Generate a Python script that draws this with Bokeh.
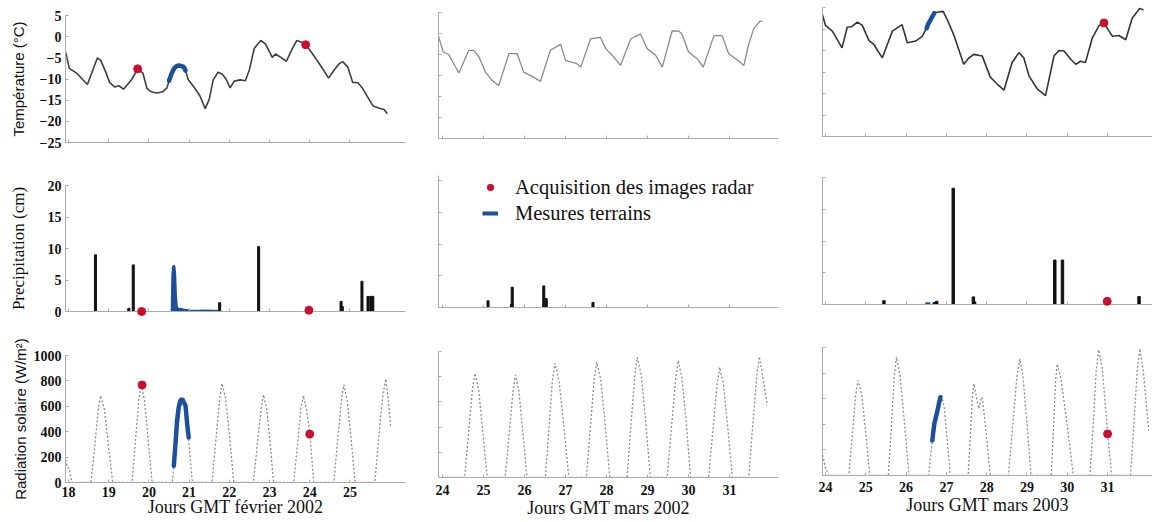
from bokeh.plotting import figure
from bokeh.layouts import row, column
from bokeh.models import Range1d, FixedTicker, Legend, LegendItem, Title
from bokeh.embed import file_html
from bokeh.resources import INLINE

# ---------------- data ----------------
feb2002_ticks = [18, 19, 20, 21, 22, 23, 24, 25]
mar_ticks = [24, 25, 26, 27, 28, 29, 30, 31]
temp_ticks = [-25, -20, -15, -10, -5, 0, 5]
precip_ticks = [0, 5, 10, 15, 20]
rad_ticks = [0, 200, 400, 600, 800, 1000]

x_titles = ["Jours GMT février 2002", "Jours GMT mars 2002", "Jours GMT mars 2003"]
y_titles = ["Température (°C)", "Precipitation (cm)", "Radiation solaire (W/m²)"]
legend_labels = ["Acquisition des images radar", "Mesures terrains"]

# Temperature (deg C)
temp_feb2002_days = [17.93, 18.02, 18.2, 18.38, 18.47, 18.6, 18.72, 18.8, 18.92, 19.02,
                     19.15, 19.25, 19.37, 19.47, 19.58, 19.72, 19.85, 19.95, 20.05, 20.2,
                     20.35, 20.45, 20.5, 20.56, 20.62, 20.68, 20.74, 20.8, 20.87, 20.91,
                     20.98, 21.13, 21.27, 21.4, 21.5, 21.6, 21.72, 21.82, 21.92, 22.02,
                     22.12, 22.27, 22.4, 22.5, 22.62, 22.78, 22.9, 23.07, 23.15, 23.28,
                     23.42, 23.55, 23.68, 23.8, 23.9, 24.05, 24.22, 24.35, 24.47, 24.6,
                     24.72, 24.82, 24.95, 25.07, 25.2, 25.3, 25.45, 25.57, 25.73, 25.85, 25.93]
temp_feb2002_vals = [-3.7, -7.5, -8.6, -10.4, -11.3, -8.0, -5.0, -5.6, -8.2, -10.8,
                     -11.9, -11.6, -12.4, -11.3, -10.0, -7.6, -8.6, -12.2, -13.0, -13.3,
                     -13.0, -12.1, -10.4, -8.8, -7.6, -7.0, -6.8, -6.9, -7.2, -8.0,
                     -10.2, -12.0, -14.0, -17.0, -14.8, -10.2, -8.4, -8.8, -10.0, -12.1,
                     -10.5, -10.2, -10.4, -7.8, -2.8, -0.9, -1.7, -4.9, -4.1, -4.9,
                     -5.8, -3.2, -0.9, -1.3, -1.9, -3.8, -6.1, -8.0, -9.8, -8.0,
                     -6.5, -5.9, -7.2, -10.8, -10.9, -12.0, -14.4, -16.3, -16.9, -17.2, -18.2]
temp_feb2002_field_days = [20.5, 20.56, 20.62, 20.68, 20.74, 20.8, 20.87, 20.91]
temp_feb2002_field_vals = [-10.4, -8.8, -7.6, -7.0, -6.8, -6.9, -7.2, -8.0]
temp_feb2002_radar_days = [19.72, 23.9]
temp_feb2002_radar_vals = [-7.6, -1.9]

temp_mar2002_days = [23.87, 24.02, 24.15, 24.4, 24.64, 24.76, 24.89, 25.05, 25.21, 25.37,
                     25.62, 25.82, 25.98, 26.19, 26.39, 26.63, 26.88, 27.0, 27.28, 27.37,
                     27.61, 27.85, 27.98, 28.18, 28.34, 28.59, 28.83, 28.99, 29.2, 29.36,
                     29.6, 29.76, 29.84, 30.0, 30.21, 30.36, 30.62, 30.82, 30.98, 31.19,
                     31.35, 31.47, 31.59, 31.74, 31.8]
temp_mar2002_vals = [0.3, -4.4, -5.0, -9.4, -4.0, -4.0, -5.6, -9.2, -11.2, -12.4,
                     -4.8, -4.8, -9.2, -10.2, -11.4, -4.0, -2.6, -6.4, -7.2, -8.0,
                     -1.3, -0.9, -3.6, -5.6, -7.6, -1.3, -0.1, -3.6, -5.2, -8.0,
                     0.6, 0.6, -0.1, -4.4, -6.0, -8.0, -0.5, -0.5, -4.8, -6.3,
                     -7.6, -2.5, 1.1, 2.9, 2.9]

temp_mar2003_days = [23.9, 24.0, 24.17, 24.41, 24.54, 24.66, 24.79, 24.91, 25.08, 25.2,
                     25.41, 25.66, 25.9, 26.03, 26.24, 26.4, 26.51, 26.54, 26.6, 26.65,
                     26.7, 26.77, 26.92, 27.02, 27.18, 27.43, 27.55, 27.68, 27.89, 28.09,
                     28.26, 28.43, 28.63, 28.8, 28.92, 29.05, 29.26, 29.46, 29.67, 29.79,
                     29.92, 30.09, 30.21, 30.33, 30.45, 30.62, 30.79, 30.91, 31.12, 31.28,
                     31.45, 31.61, 31.8, 31.89]
temp_mar2003_vals = [4.1, 0.85, -0.5, -4.4, 0.4, 0.6, 1.6, 0.9, -2.7, -3.6,
                     -6.7, -0.5, 1.0, -3.2, -2.8, -1.7, 0.2, 1.0, 2.0, 2.9,
                     3.7, 3.9, 4.1, 2.2, -1.3, -8.2, -6.8, -5.9, -6.3, -11.2,
                     -12.8, -14.2, -7.8, -5.5, -6.7, -10.9, -14.0, -15.5, -6.3, -5.0,
                     -5.1, -7.1, -8.2, -7.5, -7.8, -2.1, 0.85, 1.4, -1.7, -1.5,
                     -2.5, 2.5, 4.8, 4.4]
temp_mar2003_field_days = [26.51, 26.54, 26.6, 26.65, 26.7]
temp_mar2003_field_vals = [0.2, 1.0, 2.0, 2.9, 3.7]
temp_mar2003_radar_days = [30.91]
temp_mar2003_radar_vals = [1.4]

# Precipitation (cm)
precip_feb2002_days = [18.67, 19.5, 19.61, 21.76, 22.73, 24.78, 24.81, 25.3, 25.45, 25.52, 25.57]
precip_feb2002_vals = [9.0, 0.5, 7.4, 1.4, 10.3, 1.6, 0.8, 4.8, 2.4, 2.4, 2.4]
precip_feb2002_field_days = [20.56, 20.575, 20.59, 20.61, 20.64, 20.66, 20.68, 20.70, 20.72,
                             20.80, 20.90, 21.00, 21.20, 21.40, 21.60, 21.70, 21.71]
precip_feb2002_field_vals = [0, 5.5, 7.0, 7.3, 7.2, 6.0, 2.5, 0.8, 0.5,
                             0.45, 0.3, 0.2, 0.15, 0.2, 0.15, 0.15, 0]
precip_feb2002_radar_days = [19.82, 23.98]
precip_feb2002_radar_vals = [0.0, 0.2]

precip_mar2002_days = [25.11, 25.68, 25.7, 26.47, 26.53, 27.67]
precip_mar2002_vals = [1.05, 0.5, 3.2, 3.4, 1.4, 0.8]

precip_mar2003_days = [25.45, 26.7, 26.76, 27.17, 27.67, 27.7, 29.69, 29.88, 31.78]
precip_mar2003_vals = [0.6, 0.3, 0.5, 18.3, 1.2, 0.4, 7.0, 7.0, 1.25]
precip_mar2003_field_days = [26.47, 26.48, 26.60, 26.61]
precip_mar2003_field_vals = [0, 0.35, 0.35, 0]
precip_mar2003_radar_days = [30.99]
precip_mar2003_radar_vals = [0.5]

# Solar radiation (W/m2)
rad_feb2002_days = [17.93, 17.97, 18.02, 18.08,
                    18.56, 18.66, 18.74, 18.80, 18.89, 18.99, 19.10,
                    19.58, 19.67, 19.75, 19.81, 19.89, 19.98, 20.08,
                    20.58, 20.68, 20.77, 20.83, 20.91, 21.00, 21.08,
                    21.57, 21.67, 21.76, 21.82, 21.91, 22.01, 22.11,
                    22.60, 22.70, 22.79, 22.85, 22.93, 23.02, 23.10,
                    23.60, 23.70, 23.78, 23.84, 23.92, 24.01, 24.10,
                    24.60, 24.70, 24.79, 24.85, 24.93, 25.03, 25.13,
                    25.62, 25.72, 25.82, 25.89, 25.96, 26.01]
rad_feb2002_vals = [180, 120, 110, 0,
                    0, 310, 580, 684, 580, 300, 0,
                    0, 350, 650, 770, 650, 340, 0,
                    0, 300, 560, 657, 555, 290, 0,
                    0, 350, 660, 780, 660, 350, 0,
                    0, 310, 580, 690, 580, 300, 0,
                    0, 310, 580, 684, 575, 370, 0,
                    0, 350, 650, 770, 650, 345, 0,
                    0, 360, 690, 815, 640, 447]
rad_feb2002_field_days = [20.62, 20.66, 20.70, 20.74, 20.78, 20.83, 20.88, 20.91, 20.96, 20.99]
rad_feb2002_field_vals = [131, 300, 486, 590, 644, 657, 625, 605, 434, 355]
rad_feb2002_radar_days = [19.83, 24.0]
rad_feb2002_radar_vals = [768, 381]

rad_mar2002_days = [23.90, 24.54, 24.64, 24.73, 24.79, 24.88, 24.98, 25.09,
                    25.53, 25.63, 25.72, 25.78, 25.86, 25.96, 26.06,
                    26.51, 26.60, 26.68, 26.74, 26.84, 26.96, 27.08,
                    27.51, 27.61, 27.70, 27.76, 27.86, 27.97, 28.08,
                    28.50, 28.60, 28.69, 28.75, 28.85, 28.96, 29.07,
                    29.48, 29.59, 29.69, 29.75, 29.84, 29.95, 30.05,
                    30.49, 30.60, 30.70, 30.76, 30.85, 30.96, 31.07,
                    31.47, 31.57, 31.67, 31.73, 31.80, 31.86, 31.92]
rad_mar2002_vals = [0, 0, 370, 700, 827, 700, 370, 0,
                    0, 365, 690, 813, 690, 365, 0,
                    0, 410, 770, 907, 770, 405, 0,
                    0, 410, 780, 915, 780, 410, 0,
                    0, 430, 810, 955, 810, 430, 0,
                    0, 420, 790, 928, 790, 415, 0,
                    0, 395, 745, 875, 745, 390, 0,
                    0, 430, 820, 960, 820, 700, 573]

rad_mar2003_days = [23.93, 24.00, 24.08,
                    24.58, 24.67, 24.75, 24.81, 24.90, 25.00, 25.10,
                    25.56, 25.64, 25.71, 25.76, 25.85, 25.96, 26.07,
                    26.56, 26.65, 26.70, 26.77, 26.85, 26.88, 26.95, 27.02, 27.10,
                    27.54, 27.60, 27.64, 27.68, 27.73, 27.80, 27.86, 27.89, 27.97, 28.09,
                    28.54, 28.65, 28.75, 28.82, 28.90, 29.00, 29.10,
                    29.60, 29.66, 29.71, 29.75, 29.85, 30.00, 30.15,
                    30.56, 30.65, 30.72, 30.78, 30.87, 31.00, 31.10,
                    31.57, 31.66, 31.74, 31.80, 31.88, 31.95, 32.02]
rad_mar2003_vals = [160, 60, 0,
                    0, 335, 630, 742, 630, 330, 0,
                    0, 415, 785, 924, 785, 410, 0,
                    0, 273, 404, 495, 612, 633, 520, 280, 0,
                    0, 350, 600, 716, 640, 521, 600, 612, 380, 0,
                    0, 405, 775, 911, 775, 405, 0,
                    0, 390, 740, 872, 740, 390, 0,
                    0, 440, 835, 982, 830, 330, 0,
                    0, 445, 840, 990, 830, 600, 352]
rad_mar2003_field_days = [26.65, 26.70, 26.77, 26.85]
rad_mar2003_field_vals = [273, 404, 495, 612]
rad_mar2003_radar_days = [31.0]
rad_mar2003_radar_vals = [325]

# ---------------- styling / layout ----------------
SERIF = "Liberation Serif"
SANS = "Liberation Sans"
AXIS_GREY = "#ababab"
RED = "#c8102e"
BLUE = "#1d4f9a"

col_xrange = [(17.925, 26.383), (23.902, 32.195), (23.926, 32.114)]
col_frame_w = [340, 340, 330]
col_left = [65, 20, 30]
col_right = [13, 14, 0]
col_xticks = [feb2002_ticks, mar_ticks, mar_ticks]

# per row, per column: frame height, top border, bottom border, y range
row_frame_h = [[127, 126, 129], [126, 132, 127], [127, 126, 128]]
row_top = [[15, 12, 7], [23, 13, 15], [24, 20, 16]]
row_bottom = [[20, 24, 26], [20, 24, 27], [40, 45, 47]]
row_yrange = [[(-25, 5)] * 3, [(0, 20), (0, 20.79), (0, 20)], [(0, 1000)] * 3]
row_yticks = [temp_ticks, precip_ticks, rad_ticks]
bottom_label_standoff = [4, 7, 6]


def make_panel(r, c):
    p = figure(x_range=Range1d(*col_xrange[c]), y_range=Range1d(*row_yrange[r][c]),
               frame_width=col_frame_w[c], frame_height=row_frame_h[r][c],
               min_border_left=col_left[c], min_border_right=col_right[c],
               min_border_top=row_top[r][c], min_border_bottom=row_bottom[r][c],
               output_backend="svg", toolbar_location=None,
               background_fill_color="white", border_fill_color="white")
    p.outline_line_color = None
    p.grid.visible = False
    p.xaxis.ticker = FixedTicker(ticks=col_xticks[c])
    p.yaxis.ticker = FixedTicker(ticks=row_yticks[r])
    for ax in (p.xaxis[0], p.yaxis[0]):
        ax.axis_line_color = AXIS_GREY
        ax.axis_line_width = 1
        ax.major_tick_line_color = AXIS_GREY
        ax.minor_tick_line_color = None
        ax.major_tick_in = 3
        ax.major_tick_out = 0
        ax.major_label_text_font = SERIF
        ax.major_label_text_font_style = "bold"
        ax.major_label_text_font_size = "14px"
        ax.major_label_text_color = "#111111"
        ax.major_label_standoff = 4
    if r < 2:
        p.xaxis.major_label_overrides = {t: "" for t in col_xticks[c]}
        p.xaxis.major_label_text_color = None
        p.xaxis.major_label_standoff = 0
    else:
        p.xaxis.major_label_standoff = bottom_label_standoff[c]
    if c > 0:
        p.yaxis.major_label_overrides = {t: "" for t in row_yticks[r]}
        p.yaxis.major_label_text_color = None
        p.yaxis.major_label_standoff = 0
    return p


panels = [[make_panel(r, c) for c in range(3)] for r in range(3)]

# y axis titles (first column)
ylab_font = [SANS, SERIF, SANS]
ylab_size = ["15px", "17px", "15px"]
ylab_standoff = [10, 17, 2]
for r in range(3):
    ax = panels[r][0].yaxis[0]
    ax.axis_label = y_titles[r]
    ax.axis_label_text_font = ylab_font[r]
    ax.axis_label_text_font_size = ylab_size[r]
    ax.axis_label_text_font_style = "normal"
    ax.axis_label_text_color = "#111111"
    ax.axis_label_standoff = ylab_standoff[r]

# ---- temperature row ----
t1, t2, t3 = panels[0]
t1.line(temp_feb2002_days, temp_feb2002_vals, line_color="#404040", line_width=1.6)
t1.line(temp_feb2002_field_days, temp_feb2002_field_vals, line_color=BLUE, line_width=4.5, line_cap="round")
t1.scatter(temp_feb2002_radar_days, temp_feb2002_radar_vals, size=8, color=RED, level="overlay")
t2.line(temp_mar2002_days, temp_mar2002_vals, line_color="#8a8a8a", line_width=1.3)
t3.line(temp_mar2003_days, temp_mar2003_vals, line_color="#353535", line_width=1.6)
t3.line(temp_mar2003_field_days, temp_mar2003_field_vals, line_color=BLUE, line_width=4.5, line_cap="round")
t3.scatter(temp_mar2003_radar_days, temp_mar2003_radar_vals, size=8, color=RED, level="overlay")

# ---- precipitation row ----
p1, p2, p3 = panels[1]
p1.vbar(x=precip_feb2002_days, top=precip_feb2002_vals, bottom=0, width=0.05, color="#111111")
p1.varea(x=precip_feb2002_field_days, y1=0, y2=precip_feb2002_field_vals, fill_color=BLUE)
p1.line(precip_feb2002_field_days, precip_feb2002_field_vals, line_color=BLUE, line_width=1.5)
p1.scatter(precip_feb2002_radar_days, precip_feb2002_radar_vals, size=8, color=RED, level="overlay")
p2.vbar(x=precip_mar2002_days, top=precip_mar2002_vals, bottom=0, width=0.05, color="#111111")
p3.vbar(x=precip_mar2003_days, top=precip_mar2003_vals, bottom=0, width=0.06, color="#111111")
p3.varea(x=precip_mar2003_field_days, y1=0, y2=precip_mar2003_field_vals, fill_color=BLUE)
p3.scatter(precip_mar2003_radar_days, precip_mar2003_radar_vals, size=8, color=RED, level="overlay")

# legend (in middle precipitation panel); proxy renderers lie outside the visible range
leg_red = p2.scatter(x=[0], y=[-100], size=7, color=RED)
leg_blue = p2.line(x=[0, 1], y=[-100, -100], line_color=BLUE, line_width=4)
legend = Legend(items=[LegendItem(label=legend_labels[0], renderers=[leg_red]),
                       LegendItem(label=legend_labels[1], renderers=[leg_blue])],
                location=(44, 82), orientation="vertical",
                background_fill_alpha=0, border_line_color=None,
                padding=0, margin=0, spacing=2,
                glyph_width=16, glyph_height=24, label_height=24, label_standoff=17,
                label_text_font=SERIF, label_text_font_size="20.5px", label_text_color="#111111")
p2.add_layout(legend)

# ---- radiation row ----
r1, r2, r3 = panels[2]
r1.line(rad_feb2002_days, rad_feb2002_vals, line_color="#8c8c8c", line_width=1.3, line_dash="2 2")
r1.line(rad_feb2002_field_days, rad_feb2002_field_vals, line_color=BLUE, line_width=4.5, line_cap="round")
r1.scatter(rad_feb2002_radar_days, rad_feb2002_radar_vals, size=8, color=RED, level="overlay")
r2.line(rad_mar2002_days, rad_mar2002_vals, line_color="#8c8c8c", line_width=1.3, line_dash="2 2")
r3.line(rad_mar2003_days, rad_mar2003_vals, line_color="#8c8c8c", line_width=1.3, line_dash="2 2")
r3.line(rad_mar2003_field_days, rad_mar2003_field_vals, line_color=BLUE, line_width=4.5, line_cap="round")
r3.scatter(rad_mar2003_radar_days, rad_mar2003_radar_vals, size=8, color=RED, level="overlay")

# x axis titles under bottom row
cap_standoff = [-3, 0]
for c in range(2):
    ax = panels[2][c].xaxis[0]
    ax.axis_label = x_titles[c]
    ax.axis_label_text_font = SERIF
    ax.axis_label_text_font_size = "18px"
    ax.axis_label_text_font_style = "normal"
    ax.axis_label_text_color = "#111111"
    ax.axis_label_standoff = cap_standoff[c]
r3.add_layout(Title(text=x_titles[2], align="center", offset=26, standoff=0,
                    vertical_align="top",
                    text_font=SERIF, text_font_size="18px", text_font_style="normal",
                    text_color="#111111"), "below")

layout = row(column(t1, p1, r1), column(t2, p2, r2), column(t3, p3, r3))

open("out.html", "w").write(file_html(layout, INLINE))
